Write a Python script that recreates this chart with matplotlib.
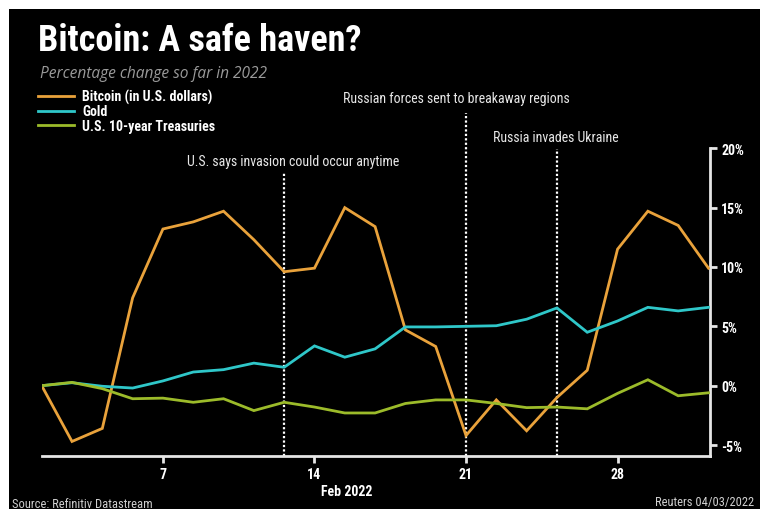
import matplotlib
matplotlib.use("Agg")
import matplotlib.pyplot as plt
from matplotlib.patches import Rectangle
from matplotlib import font_manager

W, H = 766, 510

# ---- data ----
dates = ["Feb 1", "Feb 2", "Feb 3", "Feb 4",
         "Feb 7", "Feb 8", "Feb 9", "Feb 10", "Feb 11",
         "Feb 14", "Feb 15", "Feb 16", "Feb 17", "Feb 18",
         "Feb 21", "Feb 22", "Feb 23", "Feb 24", "Feb 25",
         "Feb 28", "Mar 1", "Mar 2", "Mar 3"]
bitcoin = [0.0, -4.7, -3.6, 7.4, 13.2, 13.8, 14.7, 12.3, 9.6,
           9.9, 15.0, 13.4, 4.7, 3.3, -4.2, -1.2, -3.8, -1.0, 1.3,
           11.5, 14.7, 13.5, 9.9]
gold = [0.0, 0.25, -0.05, -0.2, 0.4, 1.15, 1.35, 1.9, 1.55,
        3.35, 2.4, 3.1, 4.95, 4.95, 5.0, 5.05, 5.6, 6.55, 4.5,
        5.45, 6.6, 6.3, 6.6]
treasury = [0.0, 0.28, -0.25, -1.1, -1.05, -1.4, -1.1, -2.1, -1.4,
            -1.8, -2.3, -2.3, -1.5, -1.2, -1.2, -1.5, -1.85, -1.8, -1.95,
            -0.65, 0.5, -0.85, -0.6]
xtick_idx = [4, 9, 14, 19]
xtick_labels = ["7", "14", "21", "28"]
ytick_vals = [-5, 0, 5, 10, 15, 20]
ytick_labels = ["-5%", "0%", "5%", "10%", "15%", "20%"]
events = [
    (8, "U.S. says invasion could occur anytime", 18.0),
    (14, "Russian forces sent to breakaway regions", 23.0),
    (17, "Russia invades Ukraine", 19.9),
]
series_names = ["Bitcoin (in U.S. dollars)", "Gold", "U.S. 10-year Treasuries"]
colors = ["#E9A23B", "#2FC7C9", "#9CBB2A"]

# ---- fonts ----
avail = {f.name for f in font_manager.fontManager.ttflist}
fam = [f for f in ["Roboto Condensed", "Liberation Sans Narrow", "Open Sans", "DejaVu Sans"] if f in avail]
plt.rcParams["font.family"] = fam

def fx(x):
    return x / W

def fy(y):
    return 1 - y / H

fig = plt.figure(figsize=(W / 100, H / 100), dpi=100, facecolor="white")
fig.add_artist(Rectangle((fx(9), 0), fx(760) - fx(9), fy(10), transform=fig.transFigure,
                         facecolor="black", edgecolor="none", zorder=-10))

ax = fig.add_axes([fx(41.7), fy(456.7), fx(710) - fx(41.7), fy(149.3) - fy(456.7)])
ax.set_facecolor("black")
ax.patch.set_alpha(0)

x = list(range(len(dates)))
lines = []
for vals, c, n in zip([bitcoin, gold, treasury], colors, series_names):
    ln, = ax.plot(x, vals, color=c, lw=2.0, label=n, solid_joinstyle="miter", zorder=3)
    lines.append(ln)

ax.set_xlim(0, 22.05)
ax.set_ylim(-5.9, 20)

for idx, label, top in events:
    ax.plot([idx, idx], [-5.9, top], color="white", lw=1.6, ls=(0, (1, 1)),
            clip_on=False, zorder=2)

for s in ["top", "left"]:
    ax.spines[s].set_visible(False)
for s in ["bottom", "right"]:
    ax.spines[s].set_color("#e6e6e6")
    ax.spines[s].set_linewidth(2)

ax.yaxis.tick_right()
ax.set_yticks(ytick_vals)
ax.set_yticklabels(ytick_labels)
ax.set_xticks(xtick_idx)
ax.set_xticklabels(xtick_labels)
ax.tick_params(axis="y", colors="#e6e6e6", labelcolor="white", length=5, width=2,
               direction="out", pad=3, labelsize=10)
ax.tick_params(axis="x", colors="#e6e6e6", labelcolor="white", length=5, width=2,
               direction="out", pad=3, labelsize=10)
for t in ax.get_yticklabels() + ax.get_xticklabels():
    t.set_fontweight("bold")

# annotations
ann_pos = [(293.3, 161.7), (456.7, 99), (556, 138.3)]
for (idx, label, top), (px, py) in zip(events, ann_pos):
    fig.text(fx(px), fy(py), label, color="#e8e8e8", fontsize=10, ha="center", va="center")

# titles
fig.text(fx(38), fy(51), "Bitcoin: A safe haven?", color="white", fontsize=26,
         fontweight="bold", ha="left", va="baseline")
sub_fam = [f for f in ["Open Sans", "DejaVu Sans"] if f in avail]
fig.text(fx(40), fy(78), "Percentage change so far in 2022", color="#9a9a9a", fontsize=11.2,
         fontstyle="italic", ha="left", va="baseline", family=sub_fam)

leg = fig.legend(handles=lines, loc="upper left", bbox_to_anchor=(fx(38), fy(90)),
                 frameon=False, handlelength=2.6, handletextpad=0.6, labelspacing=0.03,
                 fontsize=10, borderaxespad=0, borderpad=0)
for t in leg.get_texts():
    t.set_color("white")
    t.set_fontweight("bold")

fig.text(fx(347), fy(492), "Feb 2022", color="white", fontsize=10, fontweight="bold",
         ha="center", va="center")
fig.text(fx(12), fy(505), "Source: Refinitiv Datastream", color="#cfcfcf", fontsize=9,
         ha="left", va="center")
fig.text(fx(754), fy(503), "Reuters 04/03/2022", color="#cfcfcf", fontsize=9,
         ha="right", va="center")

fig.savefig("out.png", dpi=100, facecolor="white")
